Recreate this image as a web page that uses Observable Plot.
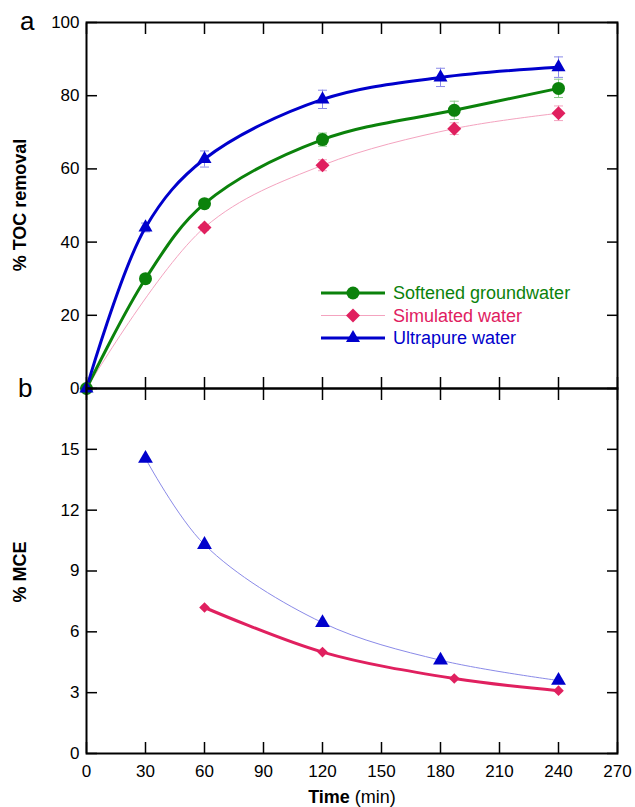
<!DOCTYPE html>
<html><head><meta charset="utf-8">
<script src="https://cdn.jsdelivr.net/npm/d3@7"></script>
<script src="https://cdn.jsdelivr.net/npm/@observablehq/plot@0.6"></script>
<style>
body{margin:0;background:#fff;}
#wrap{position:relative;width:635px;height:807px;font-family:"Liberation Sans",Arial,sans-serif;}
#wrap > svg{position:absolute;left:0;}
</style></head><body><div id="wrap"></div>
<script>
// ---- data (panel a: % TOC removal) ----
const timeUltraA = [0, 30, 60, 120, 180, 240];
const tocUltra   = [0, 44, 62.7, 79, 85, 87.8];
const errUltra   = [0, 1.2, 2.2, 2.5, 2.5, 2.8];
const timeSoftA  = [0, 30, 60, 120, 187, 240];
const tocSoft    = [0, 30, 50.5, 68, 76, 82];
const errSoft    = [0, 0.6, 1.0, 1.8, 2.5, 2.5];
const timeSimA   = [0, 60, 120, 187, 240];
const tocSim     = [0, 44, 61, 71, 75.2];
const errSim     = [0, 0.8, 1.5, 1.6, 2.0];
// ---- data (panel b: % MCE) ----
const timeUltraB = [30, 60, 120, 180, 240];
const mceUltra   = [14.55, 10.3, 6.45, 4.6, 3.6];
const timeSimB   = [60, 120, 187, 240];
const mceSim     = [7.2, 5.0, 3.7, 3.1];
// ---- ticks & labels ----
const timeTicks = [0, 30, 60, 90, 120, 150, 180, 210, 240, 270];
const tocTicks  = [0, 20, 40, 60, 80, 100];
const mceTicks  = [0, 3, 6, 9, 12, 15];
const seriesNames = ["Softened groundwater", "Simulated water", "Ultrapure water"];

const green = "#0b820b", pink = "#e0205f", blue = "#0000cc";
const greenLight = "#8ccc8c", pinkLight = "#f4a3bf", blueLight = "#8a8ae8";

const zip = (xs, ys, es) => xs.map((x, i) => ({x, y: ys[i], e: es ? es[i] : 0}));
const ultraA = zip(timeUltraA, tocUltra, errUltra);
const softA  = zip(timeSoftA, tocSoft, errSoft);
const simA   = zip(timeSimA, tocSim, errSim);
const ultraB = zip(timeUltraB, mceUltra);
const simB   = zip(timeSimB, mceSim);

const cap = {draw(ctx) { ctx.moveTo(-4.5, 0); ctx.lineTo(4.5, 0); }};
const font = '"Liberation Sans", Arial, sans-serif';
const curve = "catmull-rom";

function errMarks(data, color) {
  const d = data.filter(v => v.e > 0);
  return [
    Plot.ruleX(d, {x: "x", y1: v => v.y - v.e, y2: v => v.y + v.e, stroke: color, strokeWidth: 1}),
    Plot.dot(d, {x: "x", y: v => v.y + v.e, symbol: cap, stroke: color, fill: "none", strokeWidth: 1, r: 4}),
    Plot.dot(d, {x: "x", y: v => v.y - v.e, symbol: cap, stroke: color, fill: "none", strokeWidth: 1, r: 4})
  ];
}

function frameAxes(yTicks, showX) {
  return [
    Plot.axisY(yTicks, {anchor: "left", tickSize: -11, tickPadding: 18, strokeWidth: 1.5, label: null}),
    Plot.axisY(yTicks, {anchor: "right", tickSize: -11, tickFormat: () => "", strokeWidth: 1.5, label: null}),
    Plot.axisX(timeTicks, {anchor: "top", tickSize: -11, tickFormat: () => "", strokeWidth: 1.5, label: null}),
    Plot.axisX(timeTicks, {anchor: "bottom", tickSize: -11, tickPadding: 22, strokeWidth: 1.5, label: null,
      tickFormat: showX ? (d => String(d)) : () => ""}),
    Plot.frame({stroke: "black", strokeWidth: 2})
  ];
}

const style = {fontFamily: font, fontSize: "17px", background: "transparent", overflow: "visible", color: "black"};

const topPlot = Plot.plot({
  width: 635, height: 400, marginLeft: 86, marginRight: 18, marginTop: 22, marginBottom: 12,
  x: {domain: [0, 270]}, y: {domain: [0, 100]}, style,
  marks: [
    ...errMarks(simA, pinkLight),
    ...errMarks(softA, greenLight),
    ...errMarks(ultraA, blueLight),
    Plot.line(simA, {x: "x", y: "y", curve, stroke: pinkLight, strokeWidth: 1}),
    Plot.line(softA, {x: "x", y: "y", curve, stroke: green, strokeWidth: 3}),
    Plot.line(ultraA, {x: "x", y: "y", curve, stroke: blue, strokeWidth: 3}),
    Plot.dot(simA, {x: "x", y: "y", symbol: "diamond2", fill: pink, r: 6.3}),
    Plot.dot(softA, {x: "x", y: "y", symbol: "circle", fill: green, r: 6.5}),
    Plot.dot(ultraA, {x: "x", y: "y", symbol: "triangle", fill: blue, r: 5.2}),
    ...frameAxes(tocTicks, false)
  ]
});
topPlot.style.top = "0px";

const bottomPlot = Plot.plot({
  width: 635, height: 431, marginLeft: 86, marginRight: 18, marginTop: 12, marginBottom: 54,
  x: {domain: [0, 270]}, y: {domain: [0, 18]}, style,
  marks: [
    Plot.line(ultraB, {x: "x", y: "y", curve, stroke: blueLight, strokeWidth: 1}),
    Plot.line(simB, {x: "x", y: "y", curve, stroke: pink, strokeWidth: 3}),
    Plot.dot(simB, {x: "x", y: "y", symbol: "diamond2", fill: pink, r: 4.8}),
    Plot.dot(ultraB, {x: "x", y: "y", symbol: "triangle", fill: blue, r: 5.5}),
    ...frameAxes(mceTicks, true)
  ]
});
bottomPlot.style.top = "376px";

const wrap = document.getElementById("wrap");
wrap.appendChild(topPlot);
wrap.appendChild(bottomPlot);

// ---- overlay: panel letters, axis titles, legend ----
const svg = d3.select(wrap).append("svg").attr("width", 635).attr("height", 807)
  .style("top", "0px").attr("font-family", font);
svg.append("text").attr("x", 20).attr("y", 30).attr("font-size", 26).text("a");
svg.append("text").attr("x", 18).attr("y", 397).attr("font-size", 26).text("b");
svg.append("text").attr("transform", "translate(26,205) rotate(-90)").attr("text-anchor", "middle")
  .attr("font-size", 18).attr("font-weight", "bold").text("% TOC removal");
svg.append("text").attr("transform", "translate(26,572) rotate(-90)").attr("text-anchor", "middle")
  .attr("font-size", 18).attr("font-weight", "bold").text("% MCE");
const xt = svg.append("text").attr("x", 352).attr("y", 803).attr("text-anchor", "middle").attr("font-size", 18);
xt.append("tspan").attr("font-weight", "bold").text("Time");
xt.append("tspan").text(" (min)");

const legendItems = [
  {name: seriesNames[0], line: green, lw: 3, fill: green, sym: d3.symbolCircle, size: Math.PI * 6.5 * 6.5},
  {name: seriesNames[1], line: pinkLight, lw: 1.2, fill: pink, sym: d3.symbolDiamond2, size: Math.PI * 6.3 * 6.3},
  {name: seriesNames[2], line: blue, lw: 3, fill: blue, sym: d3.symbolTriangle, size: Math.PI * 5.2 * 5.2}
];
const textColors = [green, pink, blue];
legendItems.forEach((it, i) => {
  const y = 293 + i * 22.5;
  const g = svg.append("g").attr("transform", `translate(0,${y})`);
  g.append("line").attr("x1", 321).attr("x2", 385).attr("stroke", it.line).attr("stroke-width", it.lw);
  g.append("path").attr("transform", "translate(353,0)").attr("d", d3.symbol(it.sym, it.size)()).attr("fill", it.fill);
  g.append("text").attr("x", 393).attr("dy", "0.35em").attr("font-size", 18).attr("fill", textColors[i]).text(it.name);
});
</script></body></html>
